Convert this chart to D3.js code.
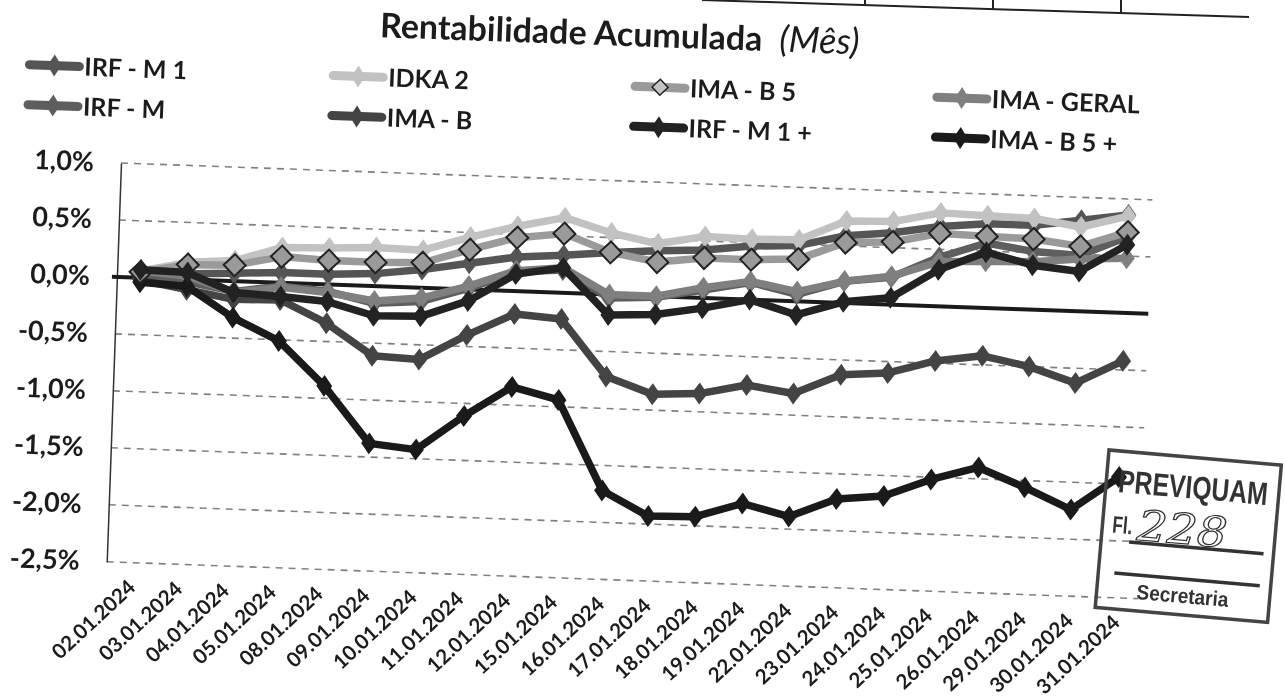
<!DOCTYPE html>
<html>
<head>
<meta charset="utf-8">
<title>Rentabilidade Acumulada</title>
<style>
body { margin: 0; background: #fff; }
svg { display: block; font-family: Lato, "Open Sans", sans-serif; filter: blur(0.45px); }
</style>
<script type="text/javascript" src="https://d3js.org/d3.v7.min.js"></script>
</head>
<body>
<svg id="chart" width="1286" height="699"></svg>
<script type="text/javascript">
const dates = ["02.01.2024", "03.01.2024", "04.01.2024", "05.01.2024", "08.01.2024", "09.01.2024",
    "10.01.2024", "11.01.2024", "12.01.2024", "15.01.2024", "16.01.2024", "17.01.2024", "18.01.2024",
    "19.01.2024", "22.01.2024", "23.01.2024", "24.01.2024", "25.01.2024", "26.01.2024", "29.01.2024",
    "30.01.2024", "31.01.2024"];
const yTicks = [1, 0.5, 0, -0.5, -1, -1.5, -2, -2.5];

const irfM1 = [0.05, 0.05, 0.07, 0.09, 0.09, 0.11, 0.16, 0.23, 0.30, 0.33, 0.37, 0.40, 0.42, 0.47, 0.49, 0.59, 0.63, 0.70, 0.74, 0.74, 0.80, 0.86];
const irfM = [0, -0.02, -0.09, -0.03, -0.06, -0.15, -0.12, 0.01, 0.17, 0.20, -0.03, -0.01, 0.07, 0.15, 0.06, 0.19, 0.24, 0.43, 0.57, 0.51, 0.49, 0.67];
const idka2 = [0.06, 0.15, 0.18, 0.31, 0.32, 0.34, 0.33, 0.46, 0.57, 0.66, 0.54, 0.46, 0.54, 0.53, 0.54, 0.72, 0.73, 0.82, 0.81, 0.80, 0.74, 0.85];
const imaB = [-0.02, -0.09, -0.16, -0.15, -0.34, -0.61, -0.63, -0.40, -0.20, -0.23, -0.72, -0.86, -0.84, -0.75, -0.81, -0.63, -0.60, -0.48, -0.42, -0.50, -0.63, -0.42];
const imaB5 = [0.05, 0.13, 0.14, 0.23, 0.21, 0.21, 0.22, 0.35, 0.47, 0.52, 0.37, 0.30, 0.35, 0.35, 0.37, 0.53, 0.55, 0.64, 0.63, 0.62, 0.57, 0.71];
const irfM1Plus = [0.07, 0.06, -0.10, -0.12, -0.15, -0.26, -0.25, -0.10, 0.15, 0.22, -0.18, -0.16, -0.09, 0, -0.12, 0.01, 0.06, 0.32, 0.49, 0.39, 0.35, 0.60];
const imaGeral = [0.06, 0.03, -0.10, -0.04, -0.07, -0.13, -0.09, 0.03, 0.18, 0.22, 0, 0, 0.09, 0.16, 0.085, 0.19, 0.25, 0.39, 0.41, 0.42, 0.46, 0.48];
const imaB5Plus = [-0.04, -0.06, -0.32, -0.51, -0.89, -1.38, -1.42, -1.11, -0.84, -0.94, -1.72, -1.93, -1.92, -1.79, -1.89, -1.72, -1.68, -1.52, -1.40, -1.56, -1.74, -1.44];

const seriesNames = ["IRF - M 1", "IRF - M", "IDKA 2", "IMA - B", "IMA - B 5", "IRF - M 1 +", "IMA - GERAL", "IMA - B 5 +"];
const seriesValues = [irfM1, irfM, idka2, imaB, imaB5, irfM1Plus, imaGeral, imaB5Plus];
const seriesColors = ["#555555", "#5e5e5e", "#c2c2c2", "#444444", "#9a9a9a", "#222222", "#7f7f7f", "#1a1a1a"];
// IRF - M 1 + lies over the others in the picture, so it goes down last
const drawOrder = [0, 2, 1, 6, 3, 7, 4, 5];

const WIDTH = 1032;
const HEIGHT = 399;
const svg = d3.select("#chart");

// the page was scanned slightly crooked, so everything sits in one rotated group
const chart = svg.append("g").attr("transform", "translate(121,163) rotate(2.05)");

const xScale = d3.scalePoint().domain(dates).range([0, WIDTH]).padding(0.5);
const yScale = d3.scaleLinear().domain([-2.5, 1]).range([HEIGHT, 0]);

const title = chart.append("text")
    .attr("x", 254)
    .attr("y", -135)
    .attr("font-size", 34)
    .attr("fill", "#1c1c1c");
title.append("tspan").attr("font-weight", 700).text("Rentabilidade Acumulada");
title.append("tspan").attr("dx", 17).attr("font-style", "italic").attr("font-size", 36).text("(Mês)");

// gridlines
chart.append("g")
    .selectAll("line")
    .data(yTicks.filter(d => d !== 0))
    .join("line")
    .attr("x1", 0)
    .attr("x2", WIDTH)
    .attr("y1", d => yScale(d))
    .attr("y2", d => yScale(d))
    .attr("stroke", "#808080")
    .attr("stroke-width", 1.6)
    .attr("stroke-dasharray", "7,6");

const yAxis = d3.axisLeft(yScale)
    .tickValues(yTicks)
    .tickSize(0)
    .tickPadding(27)
    .tickFormat(d => d3.format(".1f")(d).replace(".", ",").replace("−", "-") + "%");

chart.append("g")
    .call(yAxis)
    .call(g => g.select(".domain").attr("stroke", "#333").attr("stroke-width", 1.5))
    .selectAll("text")
    .attr("font-family", "Lato")
    .attr("font-size", 27)
    .attr("font-weight", 700)
    .attr("fill", "#1c1c1c");

const xAxis = d3.axisBottom(xScale).tickSize(0);

chart.append("g")
    .attr("transform", `translate(0,${HEIGHT})`)
    .call(xAxis)
    .call(g => g.select(".domain").remove())
    .selectAll("text")
    .attr("font-family", "Lato")
    .attr("font-size", 20.5)
    .attr("font-weight", 700)
    .attr("fill", "#1c1c1c")
    .attr("text-anchor", "end")
    .attr("dy", "0.35em")
    .attr("y", 0)
    .attr("transform", "translate(2,21) rotate(-45)");

// zero line
chart.append("line")
    .attr("x1", -5)
    .attr("x2", WIDTH)
    .attr("y1", yScale(0))
    .attr("y2", yScale(0))
    .attr("stroke", "#1a1a1a")
    .attr("stroke-width", 4);

const line = d3.line()
    .x((d, i) => xScale(dates[i]))
    .y(d => yScale(d));
const diamond = "M0,-11L8,0L0,11L-8,0Z";
const openDiamond = "M0,-11L11,0L0,11L-11,0Z";

drawOrder.forEach(s => {
    const values = seriesValues[s];
    const g = chart.append("g");
    g.append("path")
        .datum(values)
        .attr("fill", "none")
        .attr("stroke", seriesColors[s])
        .attr("stroke-width", 7.5)
        .attr("stroke-linejoin", "round")
        .attr("stroke-linecap", "round")
        .attr("d", line);
    const isB5 = seriesNames[s] === "IMA - B 5";
    g.selectAll("path.marker")
        .data(values)
        .join("path")
        .attr("class", "marker")
        .attr("transform", (d, i) => `translate(${xScale(dates[i])},${yScale(d)})`)
        .attr("d", isB5 ? openDiamond : diamond)
        .attr("fill", seriesColors[s])
        .attr("stroke", isB5 ? "#222" : "none")
        .attr("stroke-width", 2);
});

// legend, two rows and four columns
const legendCols = [-70, 234, 536, 838];
const legendRows = [-95, -55];
const legendOrder = [[0, 1], [2, 3], [4, 5], [6, 7]];
legendOrder.forEach((pair, c) => {
    pair.forEach((s, r) => {
        const cx = legendCols[c];
        const cy = legendRows[r];
        const isB5 = seriesNames[s] === "IMA - B 5";
        const item = chart.append("g").attr("transform", `translate(${cx},${cy})`);
        item.append("line")
            .attr("x1", -25)
            .attr("x2", 25)
            .attr("stroke", seriesColors[s])
            .attr("stroke-width", 9)
            .attr("stroke-linecap", "round");
        item.append("path")
            .attr("d", isB5 ? "M0,-8L8,0L0,8L-8,0Z" : "M0,-11L7,0L0,11L-7,0Z")
            .attr("fill", isB5 ? "#c4c4c4" : seriesColors[s])
            .attr("stroke", isB5 ? "#222" : "none")
            .attr("stroke-width", 1.5);
        item.append("text")
            .attr("x", 30)
            .attr("y", 9)
            .attr("font-size", 25)
            .attr("font-weight", 700)
            .attr("fill", "#1c1c1c")
            .text(seriesNames[s]);
    });
});

// bit of the table above the chart, cut by the page edge
const table = svg.append("g").attr("stroke", "#222").attr("stroke-width", 2);
table.append("line").attr("x1", 702).attr("y1", 0).attr("x2", 1249).attr("y2", 17);
[[865, 5], [993, 9], [1121, 13]].forEach(t => {
    table.append("line").attr("x1", t[0]).attr("y1", 0).attr("x2", t[0]).attr("y2", t[1]);
});

// rubber stamp over the bottom right corner
const stamp = svg.append("g")
    .attr("transform", "translate(1109,450) rotate(5)")
    .attr("font-family", "'Liberation Sans Narrow', 'Liberation Sans'")
    .attr("fill", "#333");
stamp.append("rect")
    .attr("width", 173)
    .attr("height", 158)
    .attr("fill", "none")
    .attr("stroke", "#444")
    .attr("stroke-width", 3.5);
stamp.append("text")
    .attr("x", 12)
    .attr("y", 41)
    .attr("font-size", 32)
    .attr("font-weight", 700)
    .attr("textLength", 150)
    .attr("lengthAdjust", "spacingAndGlyphs")
    .text("PREVIQUAM");
stamp.append("text").attr("x", 10).attr("y", 82).attr("font-size", 24).attr("font-weight", 700)
    .attr("textLength", 20).attr("lengthAdjust", "spacingAndGlyphs").text("Fl.");
stamp.append("text")
    .attr("x", 35)
    .attr("y", 87)
    .attr("font-family", "'DejaVu Serif'")
    .attr("font-style", "italic")
    .attr("font-size", 42)
    .attr("fill", "none")
    .attr("stroke", "#333")
    .attr("stroke-width", 1.2)
    .attr("textLength", 90)
    .attr("lengthAdjust", "spacingAndGlyphs")
    .text("228");
stamp.append("line").attr("x1", 28).attr("x2", 163).attr("y1", 90).attr("y2", 90).attr("stroke", "#333").attr("stroke-width", 3.5);
stamp.append("line").attr("x1", 16).attr("x2", 162).attr("y1", 122).attr("y2", 122).attr("stroke", "#333").attr("stroke-width", 3.5);
stamp.append("text").attr("x", 40).attr("y", 146).attr("font-size", 21).attr("font-weight", 700)
    .attr("textLength", 92).attr("lengthAdjust", "spacingAndGlyphs").text("Secretaria");
</script>
</body>
</html>
